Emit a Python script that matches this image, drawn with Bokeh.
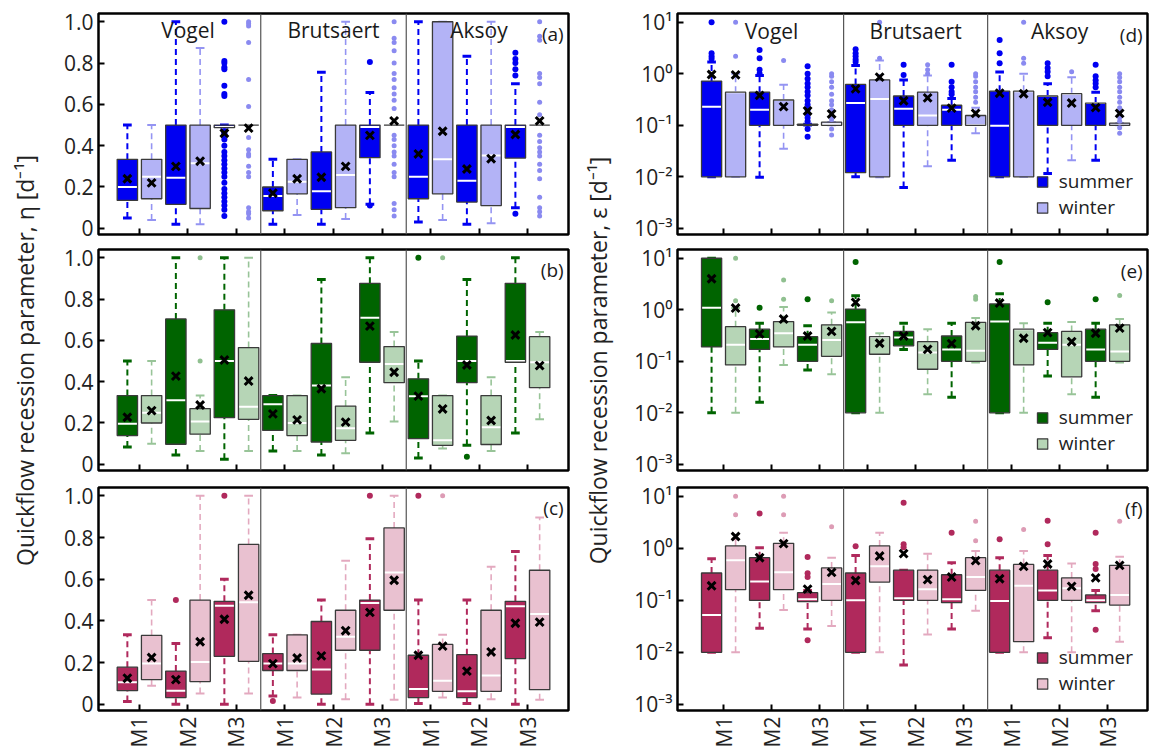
from math import pi
from bokeh.plotting import figure
from bokeh.layouts import row, column
from bokeh.models import (Range1d, FixedTicker, CustomJSTickFormatter, Span, Label,
                          Legend, LegendItem, ColumnDataSource)
from bokeh.embed import file_html
from bokeh.resources import INLINE

FONT = "Open Sans"

groups = ["Vogel", "Brutsaert", "Aksoy"]
models = ["M1", "M2", "M3"]
seasons = ["summer", "winter"]

# order inside each panel: for each group, M1 summer, M1 winter, M2 summer, M2 winter, M3 summer, M3 winter
# ---------------- panel (a) eta, blue ----------------
a_low = [0.05, 0.04, 0.02, 0.02, 0.49, 0.50, 0.02, 0.064, 0.02, 0.045, 0.116, 0.50, 0.03, 0.04, 0.02, 0.025, 0.10, 0.50]
a_q1 = [0.135, 0.143, 0.116, 0.096, 0.487, 0.50, 0.085, 0.167, 0.092, 0.10, 0.342, 0.50, 0.143, 0.167, 0.127, 0.11, 0.34, 0.50]
a_med = [0.20, 0.25, 0.245, 0.315, 0.49, 0.50, 0.156, 0.226, 0.18, 0.258, 0.49, 0.50, 0.25, 0.334, 0.23, 0.352, 0.49, 0.50]
a_q3 = [0.334, 0.334, 0.50, 0.50, 0.50, 0.50, 0.20, 0.334, 0.37, 0.50, 0.50, 0.50, 0.50, 1.0, 0.50, 0.50, 0.50, 0.50]
a_high = [0.50, 0.50, 1.0, 0.873, 0.50, 0.50, 0.334, 0.334, 0.756, 1.0, 0.658, 0.50, 1.0, 1.0, 0.833, 1.0, 0.70, 0.50]
a_mean = [0.24, 0.22, 0.30, 0.325, 0.46, 0.485, 0.17, 0.24, 0.247, 0.30, 0.45, 0.52, 0.36, 0.47, 0.287, 0.337, 0.454, 0.52]
a_out = [[], [], [], [],
         [1.0, 0.81, 0.80, 0.78, 0.77, 0.69, 0.65, 0.64, 0.47, 0.46, 0.45, 0.43, 0.40, 0.37, 0.35, 0.33,
          0.31, 0.29, 0.27, 0.25, 0.22, 0.19, 0.17, 0.15, 0.13, 0.11, 0.09, 0.06],
         [1.0, 0.99, 0.98, 0.90, 0.72, 0.59, 0.44, 0.38, 0.36, 0.35, 0.30, 0.27, 0.25, 0.10, 0.08, 0.07, 0.05],
         [], [], [], [],
         [0.805, 0.11],
         [1.0, 0.92, 0.90, 0.86, 0.80, 0.75, 0.72, 0.68, 0.65, 0.62, 0.58, 0.45, 0.43, 0.40, 0.37, 0.35,
          0.31, 0.27, 0.25, 0.12, 0.09, 0.06],
         [], [], [], [],
         [0.85, 0.82, 0.80, 0.77, 0.74, 0.07],
         [1.0, 0.93, 0.91, 0.75, 0.73, 0.70, 0.61, 0.55, 0.45, 0.42, 0.39, 0.37, 0.35, 0.31, 0.28, 0.24,
          0.15, 0.10, 0.08, 0.06]]

# ---------------- panel (b) eta, green ----------------
b_low = [0.084, 0.10, 0.045, 0.064, 0.024, 0.064, 0.064, 0.064, 0.045, 0.053, 0.151, 0.207, 0.03, 0.076, 0.092, 0.064, 0.151, 0.218]
b_q1 = [0.139, 0.20, 0.097, 0.146, 0.226, 0.218, 0.164, 0.139, 0.108, 0.116, 0.494, 0.395, 0.124, 0.092, 0.395, 0.096, 0.494, 0.371]
b_med = [0.196, 0.25, 0.31, 0.207, 0.50, 0.279, 0.291, 0.20, 0.382, 0.175, 0.709, 0.486, 0.33, 0.116, 0.50, 0.18, 0.50, 0.494]
b_q3 = [0.333, 0.333, 0.704, 0.27, 0.748, 0.565, 0.333, 0.333, 0.585, 0.282, 0.876, 0.57, 0.414, 0.333, 0.621, 0.333, 0.876, 0.618]
b_high = [0.50, 0.50, 1.0, 0.333, 1.0, 1.0, 0.333, 0.333, 0.895, 0.422, 1.0, 0.64, 0.50, 0.333, 0.895, 0.422, 1.0, 0.64]
b_mean = [0.228, 0.26, 0.427, 0.287, 0.505, 0.403, 0.244, 0.215, 0.366, 0.204, 0.669, 0.446, 0.33, 0.268, 0.481, 0.212, 0.626, 0.478]
b_out = [[], [], [], [1.0, 0.5], [], [],
         [], [], [], [], [], [],
         [1.0], [1.0], [0.037], [], [], []]

# ---------------- panel (c) eta, pink ----------------
c_low = [0.013, 0.089, 0.0, 0.052, 0.0, 0.052, 0.04, 0.032, 0.0, 0.024, 0.0, 0.021, 0.003, 0.032, 0.003, 0.024, 0.0, 0.021]
c_q1 = [0.065, 0.118, 0.032, 0.109, 0.23, 0.206, 0.162, 0.162, 0.049, 0.259, 0.259, 0.451, 0.032, 0.062, 0.032, 0.062, 0.219, 0.07]
c_med = [0.105, 0.195, 0.065, 0.203, 0.473, 0.49, 0.195, 0.195, 0.167, 0.324, 0.486, 0.632, 0.073, 0.113, 0.062, 0.138, 0.47, 0.433]
c_q3 = [0.178, 0.33, 0.159, 0.50, 0.494, 0.767, 0.243, 0.333, 0.397, 0.451, 0.50, 0.846, 0.235, 0.287, 0.238, 0.451, 0.494, 0.643]
c_high = [0.333, 0.50, 0.292, 1.0, 0.60, 1.0, 0.333, 0.333, 0.50, 0.689, 0.794, 1.0, 0.50, 0.333, 0.50, 0.66, 0.733, 0.896]
c_mean = [0.125, 0.224, 0.118, 0.30, 0.408, 0.523, 0.195, 0.222, 0.232, 0.353, 0.441, 0.595, 0.235, 0.279, 0.159, 0.251, 0.389, 0.394]
c_out = [[], [], [0.5], [], [1.0], [],
         [0.016], [], [], [], [1.0], [],
         [1.0], [1.0], [], [], [], []]

# ---------------- panel (d) epsilon, blue ----------------
d_low = [0.01, 0.01, 0.0098, 0.035, 0.10, 0.10, 0.01, 0.0098, 0.0062, 0.016, 0.021, 0.07, 0.01, 0.01, 0.0116, 0.021, 0.021, 0.10]
d_q1 = [0.01, 0.01, 0.10, 0.10, 0.10, 0.10, 0.012, 0.01, 0.10, 0.10, 0.10, 0.10, 0.01, 0.01, 0.10, 0.10, 0.10, 0.10]
d_med = [0.23, 0.44, 0.20, 0.31, 0.10, 0.105, 0.27, 0.325, 0.21, 0.155, 0.20, 0.10, 0.098, 0.46, 0.37, 0.41, 0.27, 0.10]
d_q3 = [0.72, 0.44, 0.44, 0.31, 0.105, 0.115, 0.62, 0.76, 0.37, 0.44, 0.245, 0.155, 0.46, 0.46, 0.37, 0.41, 0.27, 0.11]
d_high = [1.69, 1.0, 0.93, 0.61, 0.105, 0.115, 1.45, 1.8, 0.76, 0.93, 0.33, 0.22, 1.08, 1.0, 0.64, 0.86, 0.44, 0.11]
d_mean = [0.97, 0.95, 0.38, 0.23, 0.19, 0.166, 0.51, 0.86, 0.30, 0.34, 0.215, 0.17, 0.42, 0.41, 0.28, 0.27, 0.22, 0.17]
d_out = [[10.0, 2.5, 2.2, 1.96], [10.0, 2.2], [2.9, 2.0, 1.2, 1.0], [1.8],
         [1.4, 1.0, 0.8, 0.65, 0.55, 0.45, 0.38, 0.30, 0.25, 0.20, 0.17, 0.14, 0.12, 0.085, 0.06],
         [1.0, 0.9, 0.7, 0.55, 0.4, 0.3, 0.25, 0.2, 0.15, 0.13, 0.085, 0.065],
         [3.0, 2.5, 2.2, 1.9, 1.7], [10.0, 2.0], [1.5, 0.95], [1.5, 1.2, 1.0],
         [1.5, 0.7, 0.55, 0.45, 0.40], [1.0, 0.9, 0.7, 0.55, 0.45, 0.35, 0.28],
         [4.5, 2.5, 1.6], [10.0, 2.0, 1.6], [1.6, 1.3, 1.1, 0.9], [1.1],
         [1.5, 0.9, 0.75, 0.65, 0.55],
         [1.0, 0.85, 0.7, 0.55, 0.45, 0.35, 0.28, 0.22, 0.18, 0.14, 0.12, 0.09, 0.07]]

# ---------------- panel (e) epsilon, green ----------------
e_low = [0.01, 0.01, 0.016, 0.085, 0.068, 0.056, 0.01, 0.01, 0.17, 0.023, 0.02, 0.095, 0.01, 0.01, 0.052, 0.023, 0.02, 0.095]
e_q1 = [0.19, 0.085, 0.17, 0.19, 0.10, 0.125, 0.01, 0.137, 0.20, 0.07, 0.10, 0.10, 0.01, 0.085, 0.17, 0.05, 0.10, 0.10]
e_med = [1.1, 0.21, 0.27, 0.35, 0.21, 0.26, 0.57, 0.30, 0.29, 0.148, 0.17, 0.16, 0.59, 0.42, 0.23, 0.21, 0.17, 0.155]
e_q3 = [10.0, 0.47, 0.42, 0.59, 0.30, 0.51, 1.03, 0.30, 0.38, 0.24, 0.31, 0.57, 1.3, 0.42, 0.36, 0.38, 0.42, 0.51]
e_high = [10.0, 1.08, 0.55, 1.13, 0.49, 0.89, 1.87, 0.35, 0.55, 0.42, 0.55, 0.69, 2.05, 0.55, 0.55, 0.58, 0.55, 0.66]
e_mean = [4.0, 1.08, 0.34, 0.66, 0.31, 0.38, 1.39, 0.224, 0.31, 0.17, 0.22, 0.49, 1.35, 0.28, 0.36, 0.24, 0.35, 0.44]
e_out = [[], [10.0, 1.5], [1.1], [3.8, 1.6], [1.6], [1.5],
         [8.5], [], [], [], [], [1.8, 1.6],
         [8.5], [], [1.4], [], [1.6], [1.9]]

# ---------------- panel (f) epsilon, pink ----------------
f_low = [0.01, 0.01, 0.029, 0.065, 0.028, 0.032, 0.01, 0.01, 0.0057, 0.022, 0.028, 0.063, 0.01, 0.01, 0.019, 0.01, 0.063, 0.016]
f_q1 = [0.01, 0.16, 0.10, 0.16, 0.094, 0.10, 0.01, 0.224, 0.10, 0.10, 0.09, 0.155, 0.01, 0.016, 0.10, 0.10, 0.09, 0.081]
f_med = [0.052, 0.59, 0.23, 0.345, 0.105, 0.205, 0.10, 0.45, 0.11, 0.164, 0.105, 0.28, 0.097, 0.19, 0.155, 0.17, 0.10, 0.127]
f_q3 = [0.335, 1.11, 0.66, 1.25, 0.14, 0.42, 0.335, 1.11, 0.38, 0.38, 0.31, 0.66, 0.38, 0.49, 0.38, 0.27, 0.127, 0.47]
f_high = [0.63, 1.5, 1.03, 2.0, 0.155, 0.66, 0.73, 2.0, 0.38, 0.79, 0.53, 0.89, 0.66, 0.89, 0.73, 0.51, 0.155, 0.69]
f_mean = [0.19, 1.69, 0.66, 1.23, 0.164, 0.345, 0.24, 0.71, 0.79, 0.25, 0.28, 0.58, 0.26, 0.45, 0.50, 0.185, 0.27, 0.47]
f_out = [[], [10.0, 4.4], [4.7], [10.0, 4.4], [0.68, 0.33, 0.28, 0.017], [2.6],
         [1.1], [], [7.5, 1.2, 1.05], [], [2.0], [3.3, 1.4],
         [1.5], [2.3], [3.4, 1.2], [], [2.0, 0.5, 0.4, 0.027], [3.3]]

PAL = {
    "blue": dict(fill=["#0000F2", "#B3B3F6"], line=["#0000F2", "#9494F2"], dot=["#0000F2", "#8A8AF0"]),
    "green": dict(fill=["#006400", "#B6D5B6"], line=["#006400", "#98C498"], dot=["#006400", "#90C090"]),
    "pink": dict(fill=["#B0295C", "#E9C1D0"], line=["#B0295C", "#E3A9BF"], dot=["#B0295C", "#DD9CB5"]),
}

ROW_H = [242, 237, 274]
B_TOP = [13, 7, 8]
B_BOT = [8, 9, 43]

BOX_W = 0.42
CAP_W = 0.18
MED_W = 0.40


def build(r, c, letter, low, q1, med, q3, high, mean, out, pal):
    is_log = c == 1
    colors = PAL[pal]
    if is_log:
        x0, x1 = 0.04, 9.83
        y0, y1 = 10 ** -3.12, 10 ** 1.17
        p = figure(width=524, height=ROW_H[r], y_axis_type="log",
                   x_range=Range1d(x0, x1), y_range=Range1d(y0, y1),
                   min_border_left=52, min_border_right=2,
                   min_border_top=B_TOP[r], min_border_bottom=B_BOT[r],
                   toolbar_location=None, output_backend="svg")
        p.yaxis.ticker = FixedTicker(ticks=[1e-3, 1e-2, 1e-1, 1, 10])
        p.yaxis.formatter = CustomJSTickFormatter(code="""
            const e = Math.round(Math.log10(tick));
            const sup = {'-': '\u207b', '0': '\u2070', '1': '\u00b9', '2': '\u00b2', '3': '\u00b3'};
            return '10' + String(e).split('').map(ch => sup[ch]).join('');
        """)
        title_y = 10 ** 0.84
        letter_y = 10 ** 0.76
    else:
        x0, x1 = 0.155, 9.845
        y0, y1 = -0.03, 1.04
        p = figure(width=525, height=ROW_H[r],
                   x_range=Range1d(x0, x1), y_range=Range1d(y0, y1),
                   min_border_left=53, min_border_right=2,
                   min_border_top=B_TOP[r], min_border_bottom=B_BOT[r],
                   toolbar_location=None, output_backend="svg")
        p.yaxis.ticker = FixedTicker(ticks=[0, 0.2, 0.4, 0.6, 0.8, 1.0])
        p.yaxis.formatter = CustomJSTickFormatter(code="return tick === 0 ? '0' : tick.toFixed(1);")
        title_y = 0.958
        letter_y = 0.94

    p.grid.visible = False
    p.background_fill_color = "white"
    p.border_fill_color = "white"
    p.outline_line_color = "black"
    p.outline_line_width = 2.5
    for ax in (p.xaxis[0], p.yaxis[0]):
        ax.axis_line_color = None
        ax.major_tick_in = 6
        ax.major_tick_out = 0
        ax.major_tick_line_width = 2
        ax.major_tick_line_color = "black"
        ax.minor_tick_line_color = None
        ax.major_label_text_font = FONT
        ax.major_label_text_font_size = "21px"
        ax.major_label_text_color = "#222222"
    p.yaxis.major_label_standoff = 5

    ticks = list(range(1, 10))
    p.xaxis.ticker = FixedTicker(ticks=ticks)
    if r == 2:
        p.xaxis.major_label_overrides = {t: models[(t - 1) % 3] for t in ticks}
        p.xaxis.major_label_orientation = pi / 2
        p.xaxis.major_label_standoff = 6
    else:
        p.xaxis.major_label_overrides = {t: "" for t in ticks}
        p.xaxis.major_label_standoff = 0

    for loc in (3.5, 6.5):
        p.add_layout(Span(location=loc, dimension="height", line_color="#555555", line_width=1.2, level="underlay"))

    xs, ss = [], []
    for g in range(len(groups)):
        for m in range(len(models)):
            for s in range(len(seasons)):
                xs.append(g * 3 + m + 1 + (0.25 if s else -0.25))
                ss.append(s)

    legend_items = []
    for s in range(len(seasons)):
        idx = [i for i in range(len(xs)) if ss[i] == s]
        src = ColumnDataSource(dict(
            x=[xs[i] for i in idx],
            c0=[xs[i] - CAP_W / 2 for i in idx], c1=[xs[i] + CAP_W / 2 for i in idx],
            m0=[xs[i] - MED_W / 2 for i in idx], m1=[xs[i] + MED_W / 2 for i in idx],
            low=[low[i] for i in idx], q1=[q1[i] for i in idx], med=[med[i] for i in idx],
            q3=[q3[i] for i in idx], high=[high[i] for i in idx], mean=[mean[i] for i in idx],
        ))
        lc = colors["line"][s]
        wl = 2.0 if s == 0 else 1.6
        cw = 3.0 if s == 0 else 2.0
        p.segment(x0="x", y0="q3", x1="x", y1="high", source=src, line_color=lc, line_width=wl, line_dash="6 4")
        p.segment(x0="x", y0="low", x1="x", y1="q1", source=src, line_color=lc, line_width=wl, line_dash="6 4")
        p.segment(x0="c0", y0="high", x1="c1", y1="high", source=src, line_color=lc, line_width=cw)
        p.segment(x0="c0", y0="low", x1="c1", y1="low", source=src, line_color=lc, line_width=cw)
        fill_r = p.vbar(x="x", width=BOX_W, top="q3", bottom="q1", source=src,
                        fill_color=colors["fill"][s], line_color=None)
        p.segment(x0="m0", y0="med", x1="m1", y1="med", source=src, line_color="white", line_width=2)
        outl_r = p.vbar(x="x", width=BOX_W, top="q3", bottom="q1", source=src,
                        fill_color=None, line_color="#3a3a3a", line_width=1.3)
        ox, oy = [], []
        for i in idx:
            for v in out[i]:
                ox.append(xs[i])
                oy.append(v)
        p.scatter(ox, oy, size=6 if s == 0 else 5, marker="circle",
                  fill_color=colors["dot"][s], line_color=None)
        legend_items.append(LegendItem(label=seasons[s], renderers=[fill_r, outl_r]))

    src_all = ColumnDataSource(dict(x=xs, mean=mean))
    p.scatter(x="x", y="mean", source=src_all, marker="x", size=11, line_width=3, line_color="black")

    if r == 0:
        for g, name in enumerate(groups):
            p.add_layout(Label(x=g * 3 + 2, y=title_y, text=name, text_align="center",
                               text_baseline="middle", text_font=FONT, text_font_size="21px",
                               text_color="#1a1a1a"))
    p.add_layout(Label(x=x1 - 0.1, y=letter_y, text=letter, text_align="right",
                       text_baseline="middle", text_font=FONT, text_font_size="19px",
                       text_color="#1a1a1a"))

    if is_log:
        leg = Legend(items=legend_items, location="bottom_right", glyph_width=13, glyph_height=13,
                     label_text_font=FONT, label_text_font_size="19px", label_text_color="#222222",
                     background_fill_alpha=0, border_line_alpha=0, spacing=0, padding=2,
                     margin=12, label_standoff=10, label_height=20)
        p.add_layout(leg)
    return p


def label_fig(w, cx, text):
    f = figure(width=w, height=753, x_range=Range1d(0, w), y_range=Range1d(0, 753),
               x_axis_location=None, y_axis_location=None, min_border=0,
               toolbar_location=None, output_backend="svg")
    f.grid.visible = False
    f.outline_line_color = None
    f.add_layout(Label(x=cx, y=753 - 360, text=text, angle=pi / 2, text_align="center",
                       text_baseline="middle", text_font=FONT, text_font_size="23px",
                       text_color="#222222"))
    return f


pa = build(0, 0, "(a)", a_low, a_q1, a_med, a_q3, a_high, a_mean, a_out, "blue")
pb = build(1, 0, "(b)", b_low, b_q1, b_med, b_q3, b_high, b_mean, b_out, "green")
pc = build(2, 0, "(c)", c_low, c_q1, c_med, c_q3, c_high, c_mean, c_out, "pink")
pd = build(0, 1, "(d)", d_low, d_q1, d_med, d_q3, d_high, d_mean, d_out, "blue")
pe = build(1, 1, "(e)", e_low, e_q1, e_med, e_q3, e_high, e_mean, e_out, "green")
pf = build(2, 1, "(f)", f_low, f_q1, f_med, f_q3, f_high, f_mean, f_out, "pink")

lab_l = label_fig(45, 24, "Quickflow recession parameter, \u03b7 [d\u207b\u00b9]")
lab_r = label_fig(55, 27, "Quickflow recession parameter, \u03b5 [d\u207b\u00b9]")

layout = row(lab_l, column(pa, pb, pc, spacing=0), lab_r, column(pd, pe, pf, spacing=0), spacing=0)

open("out.html", "w").write(file_html(layout, INLINE))
